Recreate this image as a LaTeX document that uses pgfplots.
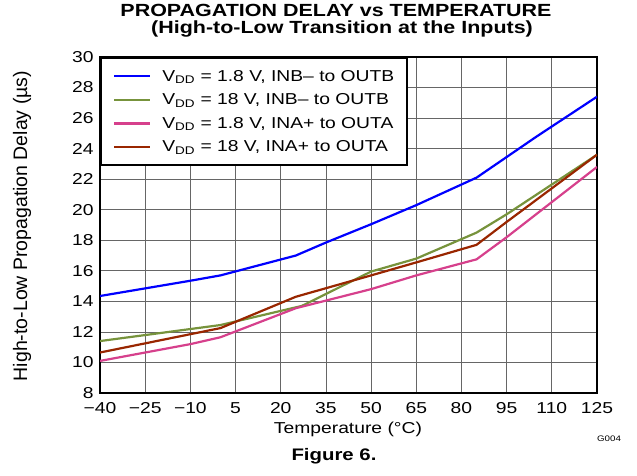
\documentclass[border=0pt]{standalone}
\usepackage{fontspec}
\setmainfont{Liberation Sans}[FakeStretch=1.22]
\newfontfamily\plainfont{Liberation Sans}
\usepackage{pgfplots}
\pgfplotsset{compat=1.18}

\definecolor{cblue}{RGB}{0,0,255}
\definecolor{cgreen}{RGB}{119,147,60}
\definecolor{cpink}{RGB}{214,64,140}
\definecolor{cbrown}{RGB}{153,38,0}

\newcommand{\sz}{\fontsize{15.8bp}{18bp}\selectfont}

\begin{document}
\begin{tikzpicture}[x=1bp,y=1bp]
\useasboundingbox (0,0) rectangle (637,476);
\begin{axis}[
    at={(100bp,83bp)}, anchor=south west,
    scale only axis, width=497bp, height=336bp,
    xmin=-40, xmax=125, ymin=8, ymax=30,
    xtick={-40,-25,...,125},
    xticklabels={−40,−25,−10,5,20,35,50,65,80,95,110,125},
    ytick={8,10,...,30},
    /pgf/number format/assume math mode=true,
    ticklabel style={font=\sz},
    xticklabel style={yshift=-6bp},
    yticklabel style={xshift=-3bp},
    major tick length=0pt,
    grid=major,
    grid style={gray!80!black, line width=0.8bp},
    axis line style={line width=2.2bp},
    legend cell align=left,
    legend style={at={(0,1)}, anchor=north west, draw=black, line width=2.2bp,
        fill=white, font=\sz, inner xsep=12bp, inner ysep=11bp,
        row sep=9bp, nodes={inner sep=1bp},
        /tikz/every odd column/.append style={column sep=10bp}},
    legend image code/.code={\draw[#1] (0bp,0bp) -- (36bp,0bp);},
    every axis plot/.append style={line width=2.2bp},
]
\addplot[cblue] coordinates {(-40,14.35)(-25,14.85)(-10,15.35)(0,15.7)(25,17.0)(35,17.85)(50,19.05)(65,20.3)(85,22.1)(105,24.8)(125,27.4)};
\addplot[cgreen] coordinates {(-40,11.4)(0,12.45)(27,13.7)(50,15.95)(65,16.8)(85,18.5)(95,19.7)(125,23.6)};
\addplot[cpink] coordinates {(-40,10.1)(-10,11.2)(0,11.65)(25,13.55)(50,14.8)(65,15.7)(85,16.75)(95,18.2)(125,22.8)};
\addplot[cbrown] coordinates {(-40,10.65)(0,12.25)(25,14.3)(50,15.7)(65,16.55)(85,17.7)(95,19.2)(125,23.6)};
\legend{{V\textsubscript{DD} = 1.8 V, INB– to OUTB},
        {V\textsubscript{DD} = 18 V, INB– to OUTB},
        {V\textsubscript{DD} = 1.8 V, INA+ to OUTA},
        {V\textsubscript{DD} = 18 V, INA+ to OUTA}}
\end{axis}
\node[font=\bfseries\fontsize{17.6bp}{18bp}\selectfont, anchor=base, inner sep=0pt] at (336,459) {PROPAGATION DELAY vs TEMPERATURE};
\node[font=\bfseries\fontsize{17.6bp}{18bp}\selectfont, anchor=base, inner sep=0pt] at (342,442) {(High-to-Low Transition at the Inputs)};
\node[font=\sz, inner sep=0pt] at (348,47) {Temperature (°C)};
\node[font=\bfseries\fontsize{16.7bp}{18bp}\selectfont, inner sep=0pt] at (334,20) {Figure 6.};
\node[font=\fontsize{8bp}{9bp}\selectfont, inner sep=0pt] at (609,37) {G004};
\node[font=\plainfont\fontsize{19.5bp}{21bp}\selectfont, rotate=90, inner sep=0pt] at (22,250) {High-to-Low Propagation Delay (µs)};
\end{tikzpicture}
\end{document}
